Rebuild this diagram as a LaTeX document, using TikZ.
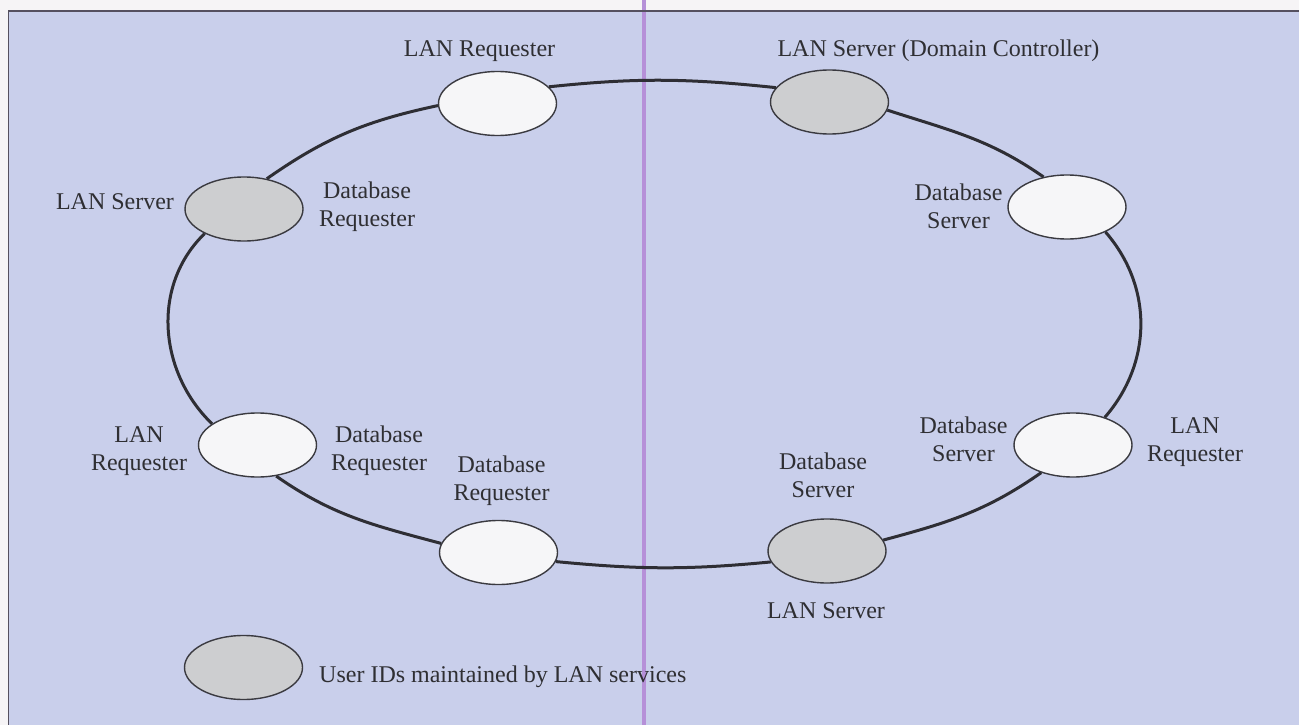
\documentclass[tikz,border=0pt]{standalone}
\usepackage{fontspec}
\setmainfont{Liberation Serif}
\usetikzlibrary{shapes.geometric}

\definecolor{paper}{HTML}{F6F4F6}
\definecolor{panel}{HTML}{C9CFEB}
\definecolor{fold}{HTML}{B690D8}
\definecolor{frameline}{HTML}{55505F}
\definecolor{ringline}{HTML}{2E2E34}
\definecolor{nodeline}{HTML}{3A3A40}
\definecolor{userfill}{HTML}{CDCED0}
\definecolor{plainfill}{HTML}{F6F6F8}
\definecolor{ink}{HTML}{2F2F33}

% two centred lines, aligned on the baseline of the first one
\newcommand\twoline[2]{\begin{tabular}[t]{@{}c@{}}#1\\#2\end{tabular}}

\begin{document}
\begin{tikzpicture}[x=1pt,y=1pt,
  station/.style={ellipse, draw=nodeline, line width=1.4pt,
    minimum width=118pt, minimum height=64pt, inner sep=0pt},
  userst/.style={station, fill=userfill},
  plainst/.style={station, fill=plainfill},
  ring/.style={draw=ringline, line width=3pt},
  lbl/.style={text=ink, font=\fontsize{24}{28}\selectfont, inner sep=0pt, anchor=base}]

\useasboundingbox (0,0) rectangle (1299,-725);
\fill[paper] (0,0) rectangle (1299,-725);
\fill[panel] (8.7,-11) rectangle (1299,-725);
\draw[fold, line width=4pt] (644,0) -- (644,-725);
\draw[frameline, line width=1.5pt] (8.7,-725) -- (8.7,-11) -- (1299,-11);

% stations on the ring
\node[plainst] (A) at (497.5,-103.5) {};
\node[userst]  (B) at (829.5,-102) {};
\node[plainst] (C) at (1067,-207) {};
\node[plainst] (D) at (1073,-445) {};
\node[userst]  (E) at (827,-551) {};
\node[plainst] (F) at (498.5,-552.5) {};
\node[plainst] (G) at (257.5,-445) {};
\node[userst]  (H) at (244,-209) {};

% the ring connecting the stations
\draw[ring] (A.18)   to[out=6,in=174]      (B.165);
\draw[ring] (B.-8)   to[out=-18,in=145]    (C.128);
\draw[ring] (C.-33)  to[out=-49,in=49]     (D.41);
\draw[ring] (D.221)  to[out=215,in=15]     (E.11);
\draw[ring] (E.191)  to[out=185.5,in=-5.5] (F.-9);
\draw[ring] (F.171)  to[out=165,in=-35]    (G.-59);
\draw[ring] (G.155)  to[out=136,in=224]    (H.212);
\draw[ring] (H.53)   to[out=35,in=192]     (A.182);

% labels
\node[lbl] (lA)  at (479.5,-57) {LAN Requester};
\node[lbl] (lB)  at (938.5,-57) {LAN Server (Domain Controller)};
\node[lbl] (lH1) at (115,-209) {LAN Server};
\node[lbl] (lH2) at (367,-198) {\twoline{Database}{Requester}};
\node[lbl] (lC)  at (958.5,-200) {\twoline{Database}{Server}};
\node[lbl] (lG1) at (139,-442) {\twoline{LAN}{Requester}};
\node[lbl] (lG2) at (379,-442) {\twoline{Database}{Requester}};
\node[lbl] (lF)  at (501.5,-472) {\twoline{Database}{Requester}};
\node[lbl] (lD1) at (963.5,-433) {\twoline{Database}{Server}};
\node[lbl] (lD2) at (1195,-433) {\twoline{LAN}{Requester}};
\node[lbl] (lE1) at (823,-469) {\twoline{Database}{Server}};
\node[lbl] (lE2) at (826,-618) {LAN Server};

% legend
\node[userst] (key) at (243.5,-667.5) {};
\node[lbl, anchor=base west] (keytext) at (319,-682) {User IDs maintained by LAN services};
\end{tikzpicture}
\end{document}
